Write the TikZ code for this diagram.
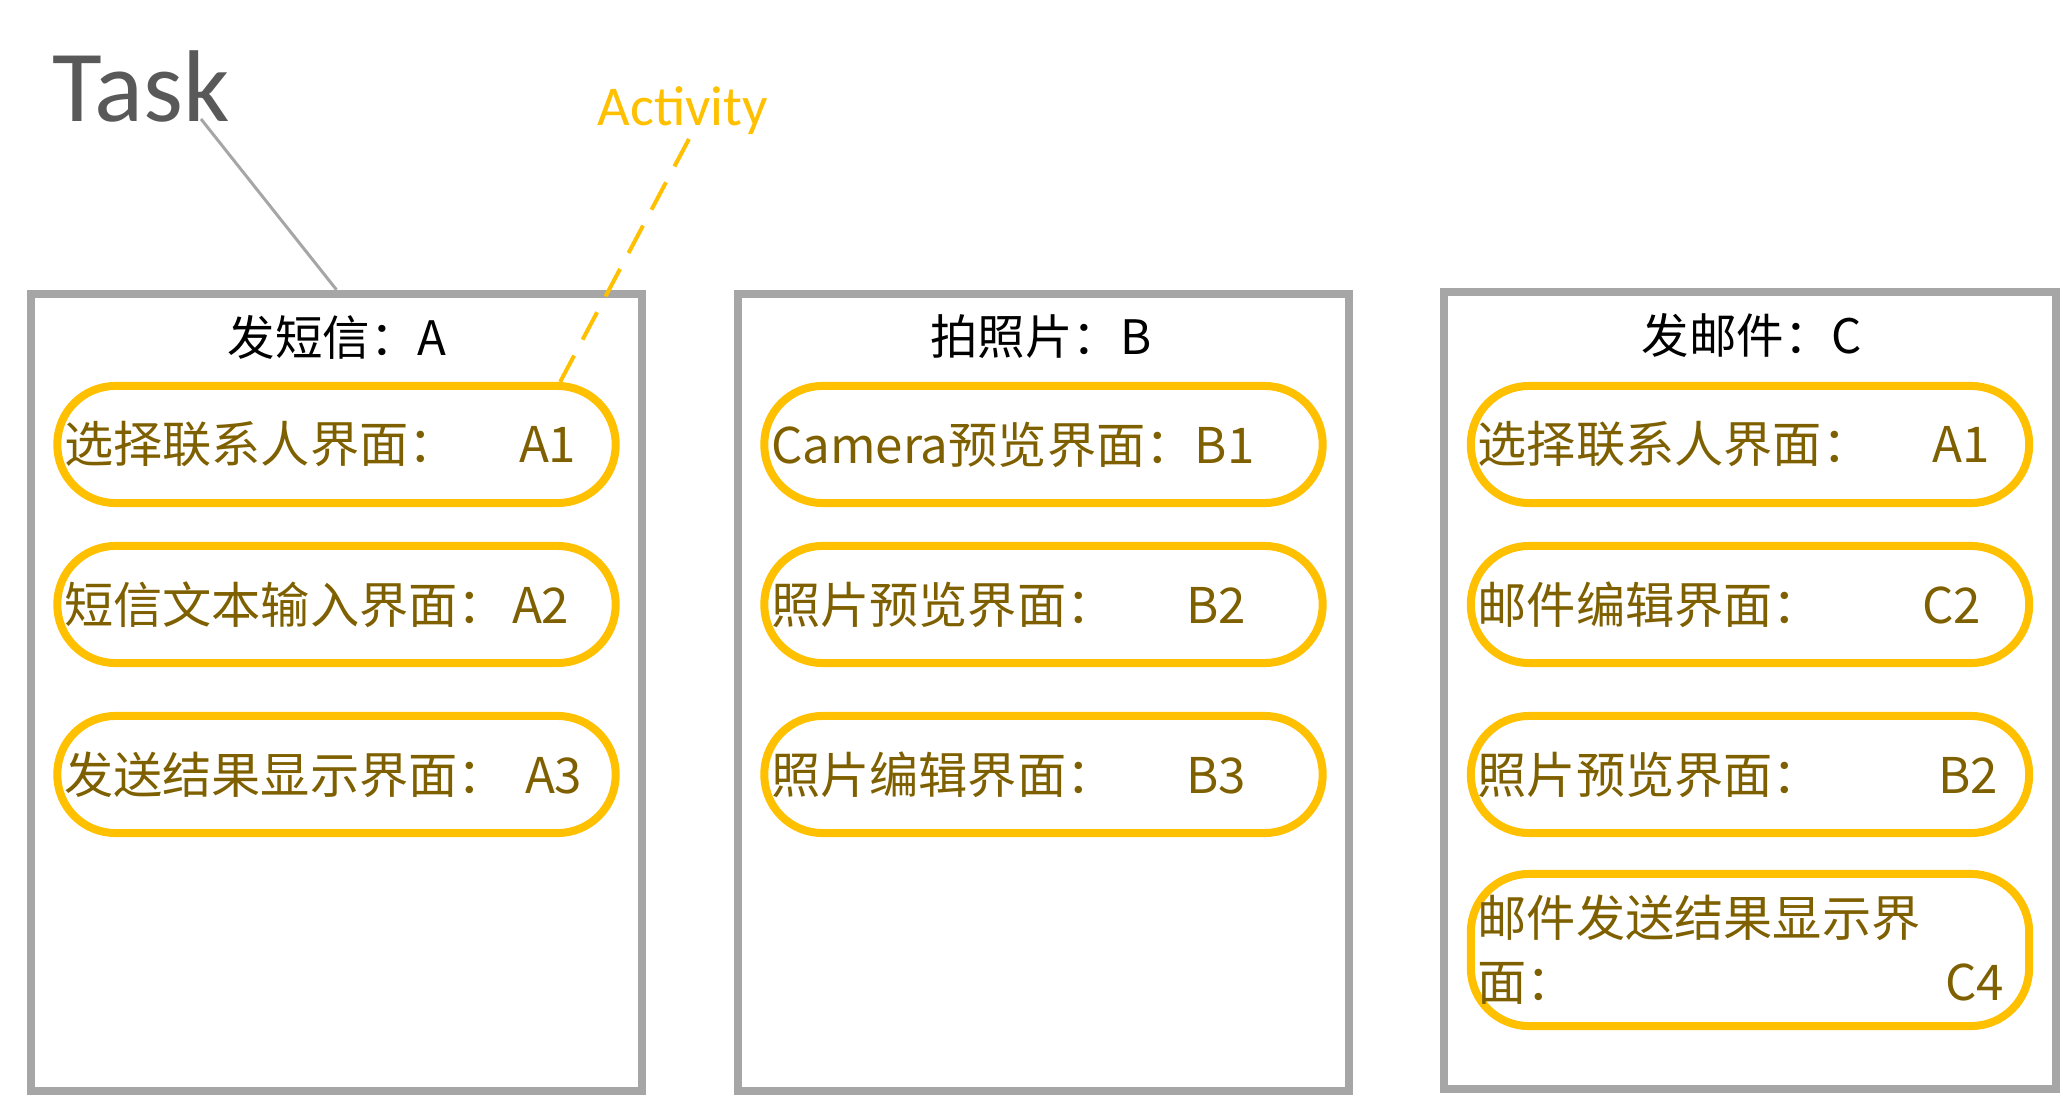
\documentclass[tikz,border=0pt]{standalone}
\usepackage{fontspec}
\setmainfont{Noto Sans CJK SC}
\newfontfamily\calibri{Carlito}
\usetikzlibrary{positioning}

\definecolor{boxgray}{HTML}{A6A6A6}
\definecolor{taskgray}{HTML}{595959}
\definecolor{actgold}{HTML}{FFC000}
\definecolor{textgold}{HTML}{7F6000}

\newcommand{\gapto}{\nobreak\hspace{0pt plus 1filll}}

\tikzset{
	taskbox/.style={draw=boxgray, line width=0.08cm, minimum width=6.11cm, minimum height=7.97cm, inner sep=0},
	tasktitle/.style={font=\fontsize{13.5}{16}\selectfont, inner sep=0},
	actpill/.style={draw=actgold, line width=0.08cm, rounded corners=0.58cm, minimum width=5.58cm, minimum height=1.17cm, inner sep=0},
	acttext/.style={anchor=west, inner sep=0, text=textgold, align=left, font=\fontsize{14}{18.2}\selectfont},
}

\begin{document}
\begin{tikzpicture}[x=0.01cm, y=-0.01cm]
				\useasboundingbox (0,0) rectangle (2063,1100);
				% Tasks
				\node[taskbox] (boxA) at (336.5,692.5) {};
				\node[taskbox] (boxB) at (1043.5,692.5) {};
				\node[taskbox] (boxC) at (1750,690.5) {};
				\node[tasktitle] (titleA) at (337,337) {发短信：A};
				\node[tasktitle] (titleB) at (1041,337) {拍照片：B};
				\node[tasktitle] (titleC) at (1752,335) {发邮件：C};
				% Activities of A
				\node[actpill] (a1) at (336.5,444.5) {};
				\node[acttext, text width=5.12cm] (a1t) at ([xshift=0.1cm]a1.west) {选择联系人界面：\gapto A1};
				\node[actpill] (a2) at (336.5,604.5) {};
				\node[acttext, text width=5.05cm] (a2t) at ([xshift=0.1cm]a2.west) {短信文本输入界面：\gapto A2};
				\node[actpill] (a3) at (336.5,774.5) {};
				\node[acttext, text width=5.18cm] (a3t) at ([xshift=0.1cm]a3.west) {发送结果显示界面：\gapto A3};
				% Activities of B
				\node[actpill] (b1) at (1043.5,444.5) {};
				\node[acttext, text width=4.75cm] (b1t) at ([xshift=0.1cm]b1.west) {Camera预览界面：\gapto B1};
				\node[actpill] (b2) at (1043.5,604.5) {};
				\node[acttext, text width=4.75cm] (b2t) at ([xshift=0.1cm]b2.west) {照片预览界面：\gapto B2};
				\node[actpill] (b3) at (1043.5,774.5) {};
				\node[acttext, text width=4.75cm] (b3t) at ([xshift=0.1cm]b3.west) {照片编辑界面：\gapto B3};
				% Activities of C
				\node[actpill] (c1) at (1750,444.5) {};
				\node[acttext, text width=5.12cm] (c1t) at ([xshift=0.1cm]c1.west) {选择联系人界面：\gapto A1};
				\node[actpill] (c2) at (1750,604.5) {};
				\node[acttext, text width=5.03cm] (c2t) at ([xshift=0.1cm]c2.west) {邮件编辑界面：\gapto C2};
				\node[actpill] (c3) at (1750,774.5) {};
				\node[acttext, text width=5.2cm] (c3t) at ([xshift=0.1cm]c3.west) {照片预览界面：\gapto B2};
				\node[actpill, minimum height=1.52cm] (c4) at (1750,950) {};
				\node[acttext, text width=5.26cm] (c4t) at ([xshift=0.1cm]c4.west) {邮件发送结果显示界\\面：\gapto C4};
				% Labels
				\node[font=\calibri\fontsize{29}{31}\selectfont, text=taskgray, anchor=base west, inner sep=0] (task) at (52,121) {Task};
				\node[font=\calibri\fontsize{16}{18}\selectfont, text=actgold, anchor=base west, inner sep=0] (activity) at (597,125) {Activity};
				\coordinate (taskfoot) at (201,119);
				\coordinate (actfoot) at (689,139);
				\draw[boxgray, line width=0.03cm] (taskfoot) -- (boxA.north);
				\draw[actgold, line width=0.04cm, dash pattern=on 0.31cm off 0.18cm] (actfoot) -- ([xshift=2.235cm]a1.north);
\end{tikzpicture}
\end{document}
